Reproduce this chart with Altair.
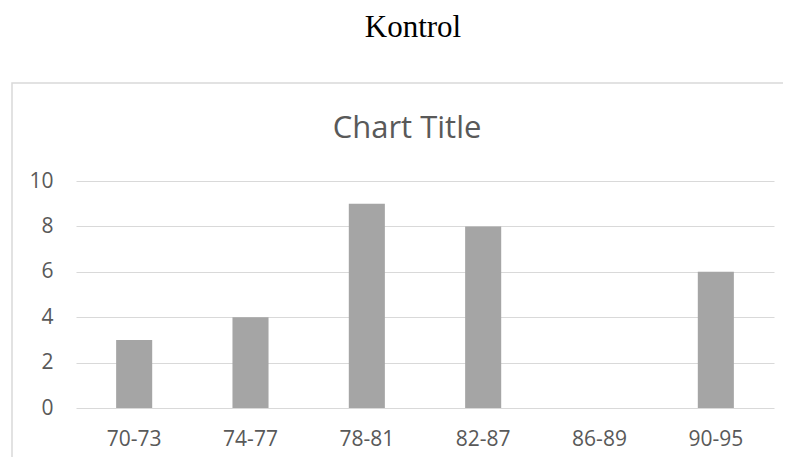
import altair as alt
import pandas as pd

categories = ["70-73", "74-77", "78-81", "82-87", "86-89", "90-95"]
values = [3, 4, 9, 8, 0, 6]
y_ticks = [0, 2, 4, 6, 8, 10]
doc_title = "Kontrol"
chart_title = "Chart Title"

df = pd.DataFrame({"range": categories, "count": values})

GRID = "#D9D9D9"
TEXT = "#595959"
FONT = "Open Sans"

bars = alt.Chart(df).mark_bar(color="#A5A5A5").encode(
    x=alt.X(
        "range:N",
        sort=categories,
        title=None,
        scale=alt.Scale(paddingInner=0.69, paddingOuter=0.345),
        axis=alt.Axis(
            labelAngle=0, domain=False, ticks=False, grid=False,
            labelFont=FONT, labelFontSize=21, labelColor=TEXT, labelPadding=20,
        ),
    ),
    y=alt.Y(
        "count:Q",
        title=None,
        scale=alt.Scale(domain=[0, 10], nice=False),
        axis=alt.Axis(
            values=y_ticks, domain=False, ticks=False, grid=True,
            gridColor=GRID, gridWidth=1.2,
            labelFont=FONT, labelFontSize=21, labelColor=TEXT, labelPadding=23,
        ),
    ),
)

border = alt.Chart(pd.DataFrame({"b": [1]})).mark_rect(
    fillOpacity=0, stroke=GRID, strokeWidth=1.5
).encode(
    x=alt.value(-64), x2=alt.value(1200), y=alt.value(-98), y2=alt.value(1200)
)

kontrol = alt.Chart(pd.DataFrame({"t": [doc_title]})).mark_text(
    font="Liberation Serif", fontSize=31, color="#000000",
    align="center", baseline="alphabetic",
).encode(text="t:N", x=alt.value(337), y=alt.value(-144))

ctitle = alt.Chart(pd.DataFrame({"t": [chart_title]})).mark_text(
    font=FONT, fontSize=31, color=TEXT,
    align="center", baseline="alphabetic",
).encode(text="t:N", x=alt.value(331), y=alt.value(-43))

chart = alt.layer(border, bars, kontrol, ctitle).properties(
    width=698,
    height=227,
    autosize="none",
    padding={"left": 68, "top": 173, "right": 9, "bottom": 49},
    background="#FFFFFF",
).configure_view(strokeWidth=0)

chart.save("out.html", embed_options={"renderer": "svg", "actions": False})
